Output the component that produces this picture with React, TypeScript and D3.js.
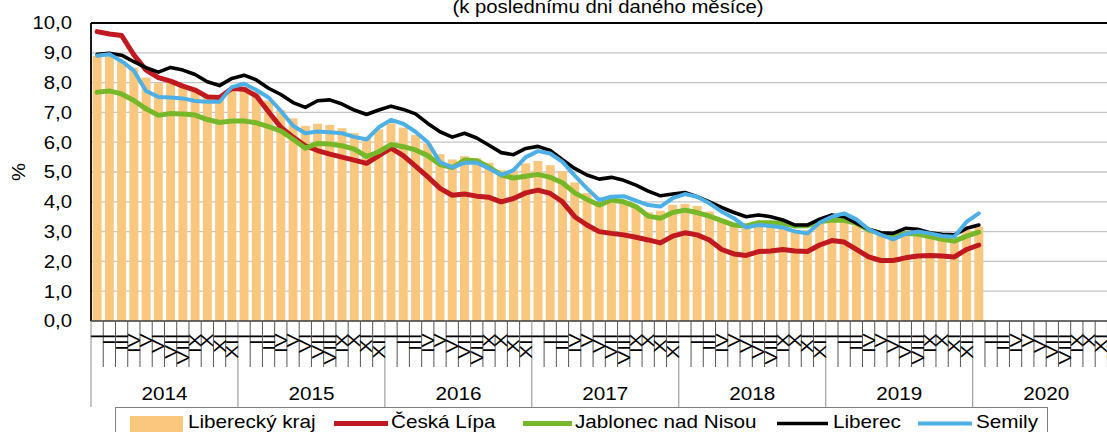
import * as d3 from 'd3'
import {useRef, useEffect} from 'react'

// months from Jan 2014, last value = Jan 2020
const years = ['2014', '2015', '2016', '2017', '2018', '2019', '2020']
const monthLabels = ['I', 'II', 'III', 'IV', 'V', 'VI', 'VII', 'VIII', 'IX', 'X', 'XI', 'XII']
const yTicks = [0, 1, 2, 3, 4, 5, 6, 7, 8, 9, 10]

const liberecky = [
  8.9, 8.9, 8.7, 8.5, 8.17, 7.98, 7.98, 7.88, 7.75, 7.6, 7.5, 7.8,
  7.85, 7.7, 7.4, 7.08, 6.8, 6.55, 6.62, 6.58, 6.47, 6.3, 6.18, 6.43,
  6.63, 6.49, 6.24, 5.96, 5.6, 5.42, 5.53, 5.46, 5.31, 5.06, 5.06, 5.29,
  5.37, 5.23, 5.03, 4.65, 4.3, 3.95, 4.06, 3.97, 3.81, 3.65, 3.7, 3.9,
  3.93, 3.86, 3.67, 3.39, 3.19, 3.11, 3.22, 3.19, 3.14, 3.05, 3.05, 3.33,
  3.39, 3.35, 3.2, 2.98, 2.92, 2.79, 2.94, 2.89, 2.83, 2.77, 2.72, 3.06,
  3.17
]
const ceskaLipa = [
  9.71, 9.63, 9.58, 8.93, 8.42, 8.17, 8.05, 7.88, 7.75, 7.52, 7.5, 7.8,
  7.78, 7.55, 7.02, 6.5, 6.17, 5.88, 5.72, 5.6, 5.5, 5.4, 5.29, 5.55,
  5.8, 5.55, 5.2, 4.84, 4.45, 4.22, 4.26, 4.19, 4.15, 4.0, 4.11, 4.3,
  4.39, 4.28, 4.0, 3.5, 3.22, 3.0, 2.94, 2.89, 2.81, 2.72, 2.62, 2.85,
  2.96, 2.89, 2.72, 2.4, 2.25, 2.2, 2.33, 2.35, 2.4, 2.35, 2.33, 2.55,
  2.7, 2.65, 2.4, 2.15, 2.03, 2.03, 2.12, 2.18, 2.2, 2.18, 2.15, 2.4,
  2.55
]
const jablonec = [
  7.68, 7.72, 7.62, 7.4, 7.12, 6.9, 6.96, 6.95, 6.91, 6.76, 6.66, 6.71,
  6.71, 6.65, 6.52, 6.38, 6.1, 5.8, 5.96, 5.94, 5.88, 5.77, 5.52, 5.68,
  5.92, 5.85, 5.74, 5.55, 5.25, 5.15, 5.4, 5.38, 5.16, 4.9, 4.8, 4.86,
  4.92, 4.82, 4.64, 4.3, 4.08, 3.89, 4.06, 4.0, 3.84, 3.52, 3.45, 3.64,
  3.72, 3.64, 3.52, 3.37, 3.22, 3.19, 3.3, 3.3, 3.28, 3.19, 3.2, 3.33,
  3.39, 3.38, 3.28, 3.05, 2.94, 2.83, 2.94, 2.92, 2.83, 2.74, 2.68, 2.85,
  2.98
]
const liberec = [
  8.95, 8.98, 8.92, 8.7, 8.5, 8.35, 8.51, 8.42, 8.27, 8.03, 7.9, 8.14,
  8.25, 8.09, 7.81, 7.6, 7.33, 7.17, 7.39, 7.42, 7.28, 7.08, 6.93, 7.08,
  7.21, 7.1, 6.95, 6.63, 6.35, 6.17, 6.3, 6.14, 5.9, 5.65, 5.58, 5.79,
  5.86, 5.72, 5.41, 5.12, 4.9, 4.76, 4.82, 4.72, 4.56, 4.36, 4.2, 4.26,
  4.31, 4.17, 4.0, 3.81, 3.64, 3.5, 3.56, 3.5, 3.39, 3.22, 3.22, 3.42,
  3.56, 3.5, 3.28, 3.08, 2.96, 2.94, 3.11, 3.08, 2.96, 2.91, 2.89, 3.11,
  3.22
]
const semily = [
  8.9, 8.95, 8.72, 8.4, 7.72, 7.52, 7.5, 7.47, 7.38, 7.36, 7.36, 7.85,
  7.96, 7.75, 7.5, 7.05, 6.55, 6.3, 6.36, 6.33, 6.3, 6.18, 6.09, 6.5,
  6.75, 6.62, 6.35, 6.0, 5.33, 5.15, 5.31, 5.31, 5.12, 4.9, 5.06, 5.5,
  5.7, 5.62, 5.34, 4.88, 4.45, 4.06, 4.17, 4.19, 4.04, 3.89, 3.84, 4.12,
  4.26, 4.17, 3.95, 3.67, 3.45, 3.14, 3.22, 3.19, 3.14, 3.0, 2.94, 3.3,
  3.5, 3.61, 3.41, 3.08, 2.89, 2.74, 2.92, 3.0, 2.94, 2.85, 2.83, 3.33,
  3.61
]

const barName = 'Liberecký kraj'
const lineSeries = [
  {name: 'Česká Lípa', values: ceskaLipa, color: '#c0191f', width: 5},
  {name: 'Jablonec nad Nisou', values: jablonec, color: '#77b82a', width: 5},
  {name: 'Liberec', values: liberec, color: '#000000', width: 3.6},
  {name: 'Semily', values: semily, color: '#4cb0e6', width: 4}
]

const svgWidth = 1107
const svgHeight = 432
const font = '"Liberation Sans", Arial, sans-serif'

export default function App() {
  const svgRef = useRef<SVGSVGElement>(null)

  const plot = {left: 91, top: 23, bottom: 321}
  const step = 12.246

  const drawChart = (): void => {
    const SVG = d3.select(svgRef.current)
    SVG.selectAll('*').remove()
    SVG.attr('width', svgWidth).attr('height', svgHeight)
      .style('font-family', font)

    const months = years.flatMap(y => monthLabels.map(m => `${y}-${m}`))
    const xScale = d3.scaleBand()
      .domain(months)
      .range([plot.left, plot.left + step * months.length])
      .paddingInner(0.27)
      .paddingOuter(0.135)
    const yScale = d3.scaleLinear()
      .domain([0, 10])
      .range([plot.bottom, plot.top])

    const cx = (i: number) => xScale(months[i])! + xScale.bandwidth() / 2
    const edge = (i: number) => xScale.range()[0] + i * xScale.step()

    // text stretched along its reading direction, like the source renderer
    const addText = (x: number, y: number, txt: string, anchor: string, size: number, rot = 0, sx = 1.15) =>
      SVG.append('text')
        .attr('transform', `translate(${x},${y}) rotate(${rot}) scale(${sx},1)`)
        .attr('text-anchor', anchor)
        .attr('font-size', size)
        .attr('fill', '#000')
        .text(txt)

    SVG.append('rect').attr('width', svgWidth).attr('height', svgHeight).attr('fill', '#fff')

    // gridlines
    SVG.append('g').selectAll('line')
      .data(yTicks.filter(t => t > 0 && t < 10))
      .enter().append('line')
      .attr('x1', plot.left).attr('x2', svgWidth)
      .attr('y1', d => yScale(d)).attr('y2', d => yScale(d))
      .attr('stroke', '#c4c4c4').attr('stroke-width', 1.3)

    // bars
    SVG.append('g').selectAll('rect')
      .data(liberecky)
      .enter().append('rect')
      .attr('x', (d, i) => xScale(months[i])!)
      .attr('y', d => yScale(d))
      .attr('width', xScale.bandwidth())
      .attr('height', d => plot.bottom - yScale(d))
      .attr('fill', '#fac77e')

    // frame
    SVG.append('line').attr('x1', plot.left).attr('x2', svgWidth)
      .attr('y1', plot.top).attr('y2', plot.top)
      .attr('stroke', '#000').attr('stroke-width', 1.8)
    SVG.append('line').attr('x1', plot.left).attr('x2', plot.left)
      .attr('y1', plot.top).attr('y2', plot.bottom)
      .attr('stroke', '#000').attr('stroke-width', 1.8)

    // lines
    const line = d3.line<number>()
      .x((d, i) => cx(i))
      .y(d => yScale(d))
    lineSeries.forEach(s => {
      SVG.append('path')
        .attr('d', line(s.values))
        .attr('fill', 'none')
        .attr('stroke', s.color)
        .attr('stroke-width', s.width)
        .attr('stroke-linejoin', 'round')
        .attr('stroke-linecap', 'round')
    })

    // x axis
    SVG.append('line').attr('x1', plot.left).attr('x2', svgWidth)
      .attr('y1', plot.bottom).attr('y2', plot.bottom)
      .attr('stroke', '#3a3a3a').attr('stroke-width', 1.5)
    SVG.append('g').selectAll('line')
      .data(d3.range(months.length + 1))
      .enter().append('line')
      .attr('x1', d => edge(d)).attr('x2', d => edge(d))
      .attr('y1', plot.bottom)
      .attr('y2', d => d % 12 === 0 ? 407 : 367)
      .attr('stroke', d => d % 12 === 0 ? '#8c8c8c' : '#555')
      .attr('stroke-width', 1)

    months.forEach((m, i) => {
      addText(cx(i), 333.5, monthLabels[i % 12], 'end', 16.5, -90, 1.25).attr('dy', '0.36em')
    })
    years.forEach((y, k) => {
      addText((edge(k * 12) + edge(k * 12 + 12)) / 2, 400, y, 'middle', 18)
    })

    // y axis labels
    yTicks.forEach(t => {
      addText(72, yScale(t) + 6.3, d3.format('.1f')(t).replace('.', ','), 'end', 17.5, 0, 1.16)
    })
    addText(25, (plot.top + plot.bottom) / 2, '%', 'middle', 17.5, -90, 1.16)

    // subtitle (upper line is cut off in the source)
    addText(608, 13, '(k poslednímu dni daného měsíce)', 'middle', 17.5, 0, 1.16)

    // legend
    SVG.append('rect')
      .attr('x', 115.5).attr('y', 407.5).attr('width', 932).attr('height', 40)
      .attr('fill', '#fff').attr('stroke', '#7f7f7f').attr('stroke-width', 1)
    SVG.append('rect').attr('x', 130).attr('y', 416).attr('width', 53).attr('height', 18)
      .attr('fill', '#fac77e')
    addText(188, 428, barName, 'start', 18)
    const legendPos = [[334, 388, 391], [523, 572, 575], [777, 828, 833], [918, 972, 976]]
    lineSeries.forEach((s, i) => {
      const [a, b, t] = legendPos[i]
      SVG.append('line').attr('x1', a).attr('x2', b).attr('y1', 423.5).attr('y2', 423.5)
        .attr('stroke', s.color).attr('stroke-width', s.width)
      addText(t, 428, s.name, 'start', 18)
    })
  }

  useEffect((): void => drawChart(), [])

  return <svg ref={svgRef} style={{position: 'absolute', left: 0, top: 0, display: 'block'}}></svg>
}
